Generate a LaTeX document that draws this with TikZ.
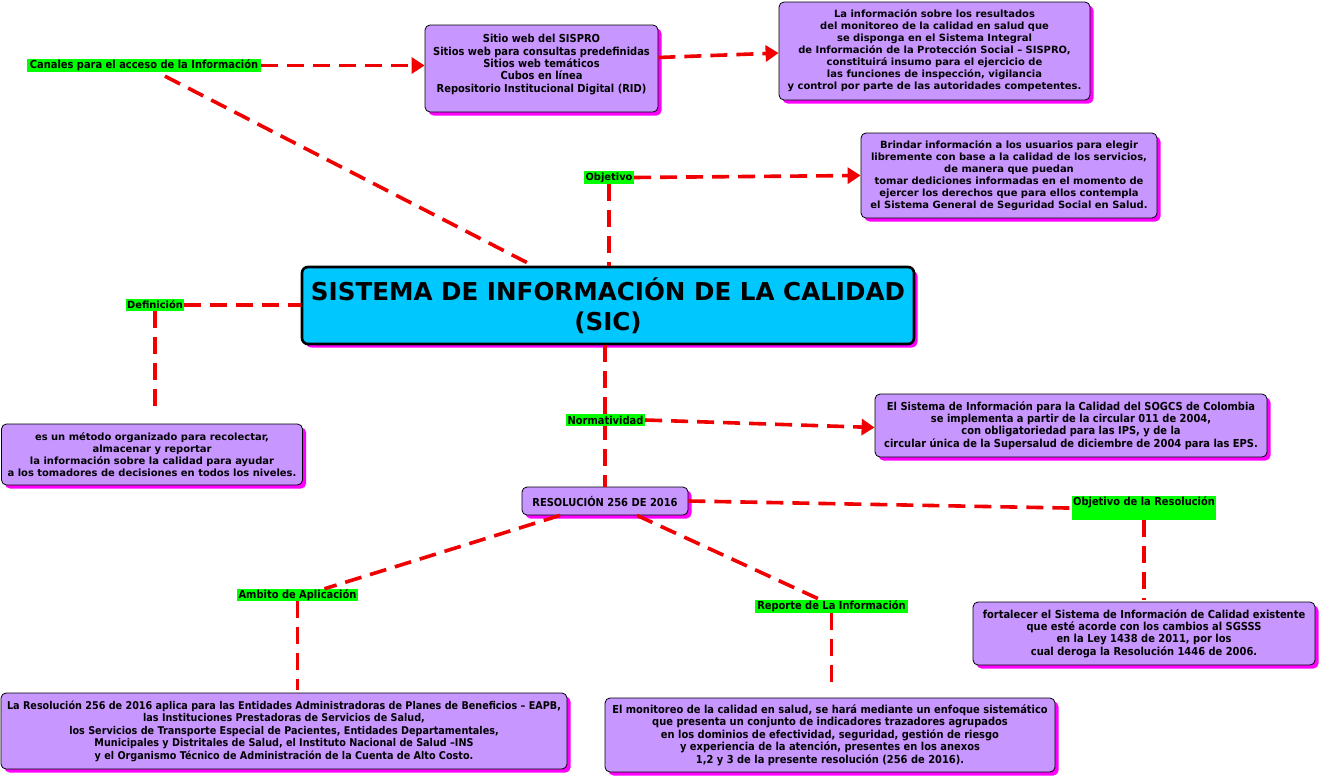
\documentclass[tikz,border=0pt]{standalone}
\usepackage{fontspec}
\setmainfont{DejaVu Sans}
\newfontfamily\tah[FakeStretch=0.9]{DejaVu Sans}
\usetikzlibrary{arrows.meta,shadows,calc}
\definecolor{boxfill}{RGB}{200,150,255}
\definecolor{shmag}{RGB}{255,0,255}
\definecolor{maincyan}{RGB}{0,200,255}
\definecolor{lblgreen}{RGB}{0,255,0}
\definecolor{conred}{RGB}{240,0,0}
\tikzset{
  basebox/.style={draw=black, line width=0.8pt, rounded corners=5pt, fill=boxfill, align=center, inner sep=1pt,
    drop shadow={shadow xshift=3.5pt,shadow yshift=-3.5pt,fill=shmag,opacity=1}},
  vbox/.style={basebox, font=\bfseries\fontsize{9.95}{12}\selectfont},
  tbox/.style={basebox, font=\tah\bfseries\fontsize{11}{12.4}\selectfont},
  vlbl/.style={fill=lblgreen, inner sep=0.5pt, font=\bfseries\fontsize{9.9}{10}\selectfont},
  tlbl/.style={fill=lblgreen, inner sep=0.5pt, font=\tah\bfseries\fontsize{11}{10}\selectfont},
  con/.style={draw=conred, line width=3.6pt, dash pattern=on 17pt off 9pt},
  arr/.style={con, -{Triangle[length=13pt,width=16pt]}},
}
\begin{document}
\begin{tikzpicture}[x=1pt,y=-1pt]
\fill[white] (0,0) rectangle (1322,779);
\useasboundingbox (0,0) rectangle (1322,779);

% boxes
\node[tbox, minimum width=233pt, minimum height=87pt] (sitios) at (541.5,68.5)
  {Sitio web del SISPRO\\Sitios web para consultas predefinidas\\Sitios web temáticos\\Cubos en línea\\Repositorio Institucional Digital (RID)\\[-2pt]};
\node[vbox, minimum width=311pt, minimum height=98pt] (info) at (934.5,51)
  {La información sobre los resultados\\del monitoreo de la calidad en salud que\\se disponga en el Sistema Integral\\de Información de la Protección Social – SISPRO,\\constituirá insumo para el ejercicio de\\las funciones de inspección, vigilancia\\y control por parte de las autoridades competentes.};
\node[vbox, minimum width=296pt, minimum height=85pt] (brindar) at (1009,175.5)
  {Brindar información a los usuarios para elegir\\libremente con base a la calidad de los servicios,\\de manera que puedan\\tomar dediciones informadas en el momento de\\ejercer los derechos que para ellos contempla\\el Sistema General de Seguridad Social en Salud.};
\node[draw=black, line width=2.6pt, rounded corners=6pt, fill=maincyan, align=center,
  minimum width=612pt, minimum height=77pt, inner sep=1pt,
  drop shadow={shadow xshift=3.5pt,shadow yshift=-3.5pt,fill=shmag,opacity=1},
  font=\bfseries\fontsize{24.6}{30}\selectfont] (main) at (608,305.5)
  {SISTEMA DE INFORMACIÓN DE LA CALIDAD\\(SIC)};
\node[vbox, minimum width=301pt, minimum height=61pt] (defbox) at (152,454.5)
  {es un método organizado para recolectar,\\almacenar y reportar\\la información sobre la calidad para ayudar\\a los tomadores de decisiones en todos los niveles.};
\node[tbox, minimum width=392pt, minimum height=63pt] (normbox) at (1071,425.5)
  {El Sistema de Información para la Calidad del SOGCS de Colombia\\se implementa a partir de la circular 011 de 2004,\\con obligatoriedad para las IPS, y de la\\circular única de la Supersalud de diciembre de 2004 para las EPS.};
\node[tbox, minimum width=166pt, minimum height=28pt] (resol) at (605,501)
  {RESOLUCIÓN 256 DE 2016};
\node[tbox, minimum width=342pt, minimum height=63pt] (fortbox) at (1144,633.5)
  {fortalecer el Sistema de Información de Calidad existente\\que esté acorde con los cambios al SGSSS\\en la Ley 1438 de 2011, por los\\cual deroga la Resolución 1446 de 2006.};
\node[tbox, minimum width=566pt, minimum height=76pt, font=\tah\bfseries\fontsize{10.7}{12.5}\selectfont] (ambbox) at (284,731)
  {La Resolución 256 de 2016 aplica para las Entidades Administradoras de Planes de Beneficios – EAPB,\\las Instituciones Prestadoras de Servicios de Salud,\\los Servicios de Transporte Especial de Pacientes, Entidades Departamentales,\\Municipales y Distritales de Salud, el Instituto Nacional de Salud –INS\\y el Organismo Técnico de Administración de la Cuenta de Alto Costo.};
\node[tbox, minimum width=450pt, minimum height=74pt] (repbox) at (830,735)
  {El monitoreo de la calidad en salud, se hará mediante un enfoque sistemático\\que presenta un conjunto de indicadores trazadores agrupados\\en los dominios de efectividad, seguridad, gestión de riesgo\\y experiencia de la atención, presentes en los anexos\\1,2 y 3 de la presente resolución (256 de 2016).};

% labels
\node[tlbl, minimum width=234pt, minimum height=13pt] (canales) at (144,65.5) {Canales para el acceso de la Información};
\node[vlbl, minimum width=50pt, minimum height=13pt] (objetivo) at (609,177.5) {Objetivo};
\node[vlbl, minimum width=58pt, minimum height=12pt] (definicion) at (155,305) {Definición};
\node[tlbl, minimum width=144pt, text depth=14pt, anchor=north] (objres) at (1144,496) {Objetivo de la Resolución};
\node[tlbl, minimum width=121pt, minimum height=12pt] (ambito) at (297.5,595) {Ambito de Aplicación};
\node[tlbl, minimum width=153pt, minimum height=13pt] (reporte) at (831.5,606.5) {Reporte de La Información};

\coordinate (defend) at (155,415);

% connectors
\draw[arr] (canales.east) -- (sitios.west |- canales.east);
\draw[arr] ([yshift=11pt]sitios.east) -- ([yshift=-2pt]info.west);
\draw[con] ([xshift=21pt,yshift=-4pt]canales.south) -- ([xshift=-75pt]main.north);
\draw[arr] (objetivo.east) -- (brindar.west);
\draw[con] (objetivo.south) -- (objetivo.south |- main.north);
\draw[con] (definicion.east) -- (main.west |- definicion.east);
\draw[con] (definicion.south) -- (defend);
\draw[con] (resol.north |- main.south) -- (resol.north);
\node[tlbl, minimum width=79pt, minimum height=12pt] (normatividad) at (605.5,420) {Normatividad};
\draw[arr] (normatividad.east) -- ([yshift=-2pt]normbox.west);
\draw[con] (resol.east) -- (objres.west);
\draw[con] (objres.south) -- ([yshift=2pt]fortbox.north);
\draw[con] ([xshift=-45pt]resol.south) -- ([xshift=27pt]ambito.north);
\draw[con] ([xshift=32pt]resol.south) -- ([xshift=-11pt]reporte.north);
\draw[con] (ambito.south) -- ([yshift=3pt]ambbox.north -| ambito.south);
\draw[con] (reporte.south) -- ([yshift=8pt]repbox.north -| reporte.south);
\end{tikzpicture}
\end{document}
